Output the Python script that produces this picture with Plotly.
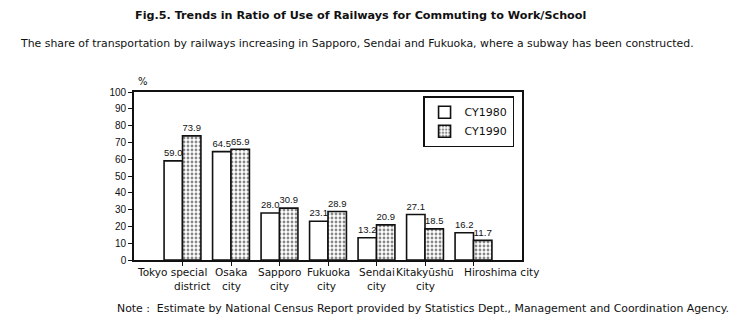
import plotly.graph_objects as go

categories = ["Tokyo special district", "Osaka city", "Sapporo city", "Fukuoka city",
              "Sendai city", "Kitakyūshū city", "Hiroshima city"]
cy1980 = [59.0, 64.5, 28.0, 23.1, 13.2, 27.1, 16.2]
cy1990 = [73.9, 65.9, 30.9, 28.9, 20.9, 18.5, 11.7]
yticks = [0, 10, 20, 30, 40, 50, 60, 70, 80, 90, 100]

# axis label text (two lines, as in the source figure)
label_lines = [("Tokyo special", "district"), ("Osaka", "city"), ("Sapporo", "city"),
               ("Fukuoka", "city"), ("Sendai", "city"), ("Kitakyūshū", "city"),
               ("Hiroshima city", "")]
shift1 = [-11, 0, 0, 0, 0, 0, 28]
shift2 = [9, 0, 0, -2, 0, 0, 0]

FONT = "DejaVu Sans, Liberation Sans, Arial"
NUMFONT = "Liberation Sans, Arial"
INK = "#111111"

fig = go.Figure()
fig.add_trace(go.Bar(
    x=list(range(len(categories))), y=cy1980, name="CY1980",
    marker=dict(color="white", line=dict(color=INK, width=1.6)),
    text=[f"{v:.1f}" for v in cy1980], textposition="outside",
    textfont=dict(size=11, color=INK, family=NUMFONT), cliponaxis=False,
))
fig.add_trace(go.Bar(
    x=list(range(len(categories))), y=cy1990, name="CY1990",
    marker=dict(color="white", line=dict(color=INK, width=1.6),
                pattern=dict(shape=".", fgcolor=INK, bgcolor="white", size=4, solidity=0.4)),
    text=[f"{v:.1f}" for v in cy1990], textposition="outside",
    textfont=dict(size=11, color=INK, family=NUMFONT), cliponaxis=False,
))

fig.update_layout(
    width=752, height=326,
    margin=dict(l=134, r=230, t=92, b=66),
    paper_bgcolor="white", plot_bgcolor="white",
    font=dict(family=FONT, color=INK, size=11),
    barmode="group", bargap=0.24, bargroupgap=0.0,
    showlegend=True,
    legend=dict(x=0.745, y=0.975, xanchor="left", yanchor="top",
                bordercolor=INK, borderwidth=1.5, bgcolor="white",
                font=dict(size=11, family=FONT), traceorder="normal",
                itemwidth=30, tracegroupgap=0),
    xaxis=dict(range=[-1, 7], tickvals=list(range(len(categories))),
               ticktext=[""] * len(categories), ticks="outside", ticklen=4,
               tickcolor=INK, showline=True, linecolor=INK, linewidth=1.6,
               mirror=True, showgrid=False, zeroline=False),
    yaxis=dict(range=[0, 100], tickvals=yticks, ticks="outside", ticklen=4,
               tickcolor=INK, showline=True, linecolor=INK, linewidth=1.6,
               mirror=True, showgrid=False, zeroline=False,
               tickfont=dict(size=10, family=NUMFONT)),
)

for i, (l1, l2) in enumerate(label_lines):
    fig.add_annotation(x=i, y=0, xref="x", yref="y", yshift=-4, xshift=shift1[i],
                       text=l1, showarrow=False, yanchor="top", xanchor="center",
                       font=dict(size=10.5, family=FONT, color=INK))
    if l2:
        fig.add_annotation(x=i, y=0, xref="x", yref="y", yshift=-18, xshift=shift2[i],
                           text=l2, showarrow=False, yanchor="top", xanchor="center",
                           font=dict(size=10.5, family=FONT, color=INK))

fig.add_annotation(xref="paper", yref="paper", x=0.0, y=1.0, yshift=3, xshift=2,
                   text="%", showarrow=False, xanchor="left", yanchor="bottom",
                   font=dict(size=10, family=FONT, color=INK))

fig.add_annotation(xref="paper", yref="paper", x=(133 - 134) / 388, y=1, yshift=77,
                   text="<b>Fig.5. Trends in Ratio of Use of Railways for Commuting to Work/School</b>",
                   showarrow=False, xanchor="left", yanchor="middle",
                   font=dict(size=11.2, family=FONT, color=INK))
fig.add_annotation(xref="paper", yref="paper", x=(18 - 134) / 388, y=1, yshift=49,
                   text="The share of transportation by railways increasing in Sapporo, Sendai and Fukuoka, where a subway has been constructed.",
                   showarrow=False, xanchor="left", yanchor="middle",
                   font=dict(size=10.9, family=FONT, color=INK))
fig.add_annotation(xref="paper", yref="paper", x=(115 - 134) / 388, y=0, yshift=-48,
                   text="Note :  Estimate by National Census Report provided by Statistics Dept., Management and Coordination Agency.",
                   showarrow=False, xanchor="left", yanchor="middle",
                   font=dict(size=10.9, family=FONT, color=INK))

fig.write_html("out.html")
